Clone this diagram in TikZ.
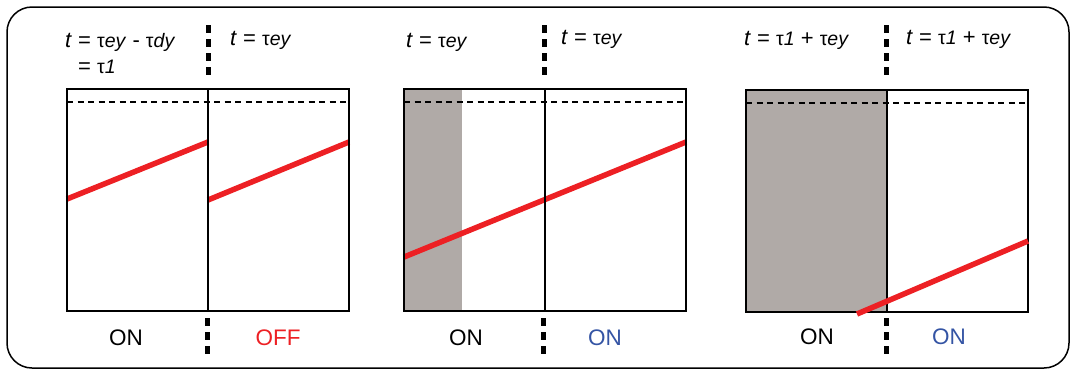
\documentclass[tikz,border=0pt]{standalone}
\usepackage{fontspec}
\setmainfont{Liberation Sans}
\definecolor{myred}{RGB}{237,32,36}
\definecolor{myblue}{RGB}{52,84,164}
\definecolor{mygray}{RGB}{176,170,167}
\newcommand{\sm}[1]{{\fontsize{19.5}{24}\selectfont #1}}
\begin{document}
\begin{tikzpicture}[x=1pt,y=-1pt,
  frame/.style={draw=black,line width=2pt},
  dashline/.style={draw=black,line width=1.4pt,dash pattern=on 6pt off 4.5pt},
  sep/.style={draw=black,line width=5pt,dash pattern=on 8pt off 6pt},
  redline/.style={draw=myred,line width=5.5pt},
  shade/.style={fill=mygray},
  lbl/.style={anchor=base west,inner sep=0pt,font=\fontsize{22}{24}\selectfont},
  state/.style={anchor=base,inner sep=0pt,font=\fontsize{22.5}{24}\selectfont}]
\useasboundingbox (0,0) rectangle (1073,370);
\draw[line width=1.5pt,rounded corners=25pt] (7,7) rectangle (1069,368);

% panel 1
\draw[redline] (67,199) -- (208,142);
\draw[redline] (208,200) -- (349,142);
\draw[dashline] (67,102) -- (349,102);
\draw[frame] (67,89) rectangle (208,311);
\draw[frame] (208,89) rectangle (349,311);

% panel 2
\fill[shade] (404,89) rectangle (462,311);
\draw[redline] (404,257) -- (686,142);
\draw[dashline] (404,102) -- (686,102);
\draw[frame] (404,89) rectangle (545,311);
\draw[frame] (545,89) rectangle (686,311);

% panel 3
\fill[shade] (746,90) rectangle (887,312);
\draw[dashline] (746,103) -- (1028,103);
\draw[frame] (746,90) rectangle (887,312);
\draw[frame] (887,90) rectangle (1028,312);
\draw[redline] (857,314) -- (1028,241);

% separators
\coordinate (s1a) at (208,25); \coordinate (s1b) at (208,79);
\coordinate (s2a) at (544,25); \coordinate (s2b) at (544,80);
\coordinate (s3a) at (886,25); \coordinate (s3b) at (886,80);
\coordinate (b1a) at (207,318); \coordinate (b1b) at (207,357);
\coordinate (b2a) at (543,318); \coordinate (b2b) at (543,357);
\coordinate (b3a) at (886,318); \coordinate (b3b) at (886,358);
\draw[sep] (s1a) -- (s1b);
\draw[sep] (s2a) -- (s2b);
\draw[sep] (s3a) -- (s3b);
\draw[sep] (b1a) -- (b1b);
\draw[sep] (b2a) -- (b2b);
\draw[sep] (b3a) -- (b3b);

% top labels
\node[lbl] (l1a) at (65,47) {\textit{t} = \sm{τ\textit{ey}} - \sm{τ\textit{dy}}};
\node[lbl] (l1b) at (78,73) {= \sm{τ\textit{1}}};
\node[lbl] (l1c) at (230,45) {\textit{t} = \sm{τ\textit{ey}}};
\node[lbl] (l2a) at (406,47) {\textit{t} = \sm{τ\textit{ey}}};
\node[lbl] (l2b) at (561,44) {\textit{t} = \sm{τ\textit{ey}}};
\node[lbl] (l3a) at (744,45) {\textit{t} = \sm{τ\textit{1}} + \sm{τ\textit{ey}}};
\node[lbl] (l3b) at (906,44) {\textit{t} = \sm{τ\textit{1}} + \sm{τ\textit{ey}}};

% bottom labels
\node[state] (o1) at (126,345) {ON};
\node[state,text=myred] (o2) at (278,345) {OFF};
\node[state] (o3) at (466,345) {ON};
\node[state,text=myblue] (o4) at (605,345) {ON};
\node[state] (o5) at (817,344) {ON};
\node[state,text=myblue] (o6) at (949,344) {ON};
\end{tikzpicture}
\end{document}
